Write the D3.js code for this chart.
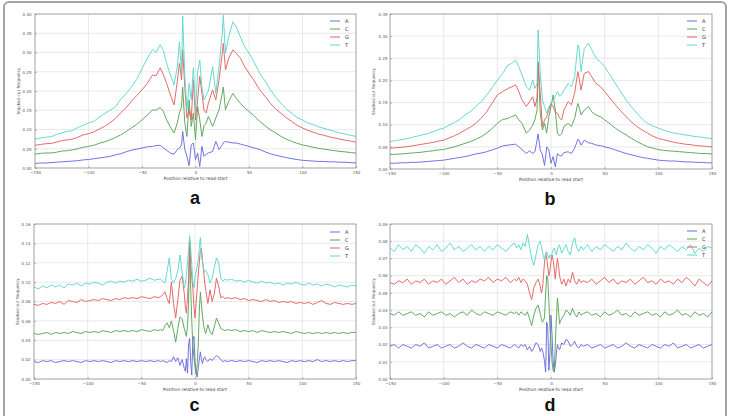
<!DOCTYPE html>
<html>
<head>
<meta charset="utf-8">
<script src="https://cdn.jsdelivr.net/npm/d3@7"></script>
<style>
  body { margin: 0; background: #fff; }
  svg { display: block; }
  .tick text { font-family: "DejaVu Sans", sans-serif; font-size: 4px; fill: #555; }
</style>
</head>
<body>
<div id="chart"></div>
<script>
/* global d3 */

// positions (bp relative to read start) used for panels a and b
const positionsAB = [-150, -145, -140, -135, -130, -125, -120, -115, -110, -105, -100, -95, -90, -85, -80, -75, -70, -65, -60, -55,
  -50, -45, -40, -37, -33, -30, -27, -23, -20, -17, -15, -13, -12, -10, -8, -6, -4, -2, 0, 2,
  4, 6, 8, 10, 12, 16, 19, 22, 25, 26, 28, 31, 35, 38, 42, 46,
  50, 55, 60, 65, 70, 75, 80, 85, 90, 95, 100, 105, 110, 115, 120, 125, 130, 135, 140, 145, 150]

// stacked cut frequency, panel a
const aA = [0.012, 0.013, 0.013, 0.014, 0.015, 0.016, 0.017, 0.018, 0.019, 0.021, 0.022, 0.024, 0.026, 0.028, 0.030, 0.034, 0.037, 0.042, 0.046, 0.049,
  0.052, 0.055, 0.056, 0.058, 0.059, 0.052, 0.046, 0.038, 0.036, 0.048, 0.052, 0.060, 0.095, 0.048, 0.030, 0.006, 0.060, 0.065, 0.022, 0.039,
  0.004, 0.056, 0.030, 0.036, 0.039, 0.043, 0.069, 0.048, 0.060, 0.066, 0.069, 0.067, 0.065, 0.065, 0.062, 0.059,
  0.056, 0.052, 0.048, 0.042, 0.037, 0.033, 0.030, 0.027, 0.024, 0.022, 0.020, 0.019, 0.018, 0.017, 0.017, 0.016, 0.016, 0.015, 0.015, 0.014, 0.013]
const aC = [0.036, 0.038, 0.039, 0.039, 0.041, 0.044, 0.045, 0.047, 0.050, 0.054, 0.056, 0.059, 0.064, 0.068, 0.073, 0.079, 0.086, 0.094, 0.104, 0.113,
  0.125, 0.138, 0.151, 0.150, 0.157, 0.147, 0.125, 0.104, 0.091, 0.117, 0.143, 0.160, 0.210, 0.117, 0.082, 0.177, 0.108, 0.143, 0.073, 0.160,
  0.125, 0.082, 0.110, 0.117, 0.134, 0.108, 0.130, 0.151, 0.194, 0.210, 0.151, 0.173, 0.194, 0.181, 0.168, 0.156,
  0.147, 0.135, 0.121, 0.110, 0.099, 0.091, 0.082, 0.075, 0.069, 0.064, 0.060, 0.057, 0.054, 0.051, 0.049, 0.047, 0.045, 0.043, 0.042, 0.040, 0.039]
const aG = [0.059, 0.061, 0.063, 0.064, 0.067, 0.071, 0.073, 0.075, 0.080, 0.086, 0.089, 0.094, 0.101, 0.108, 0.117, 0.128, 0.143, 0.156, 0.173, 0.188,
  0.203, 0.220, 0.242, 0.239, 0.260, 0.242, 0.220, 0.186, 0.164, 0.225, 0.272, 0.229, 0.307, 0.210, 0.130, 0.150, 0.125, 0.229, 0.125, 0.177,
  0.238, 0.194, 0.150, 0.143, 0.168, 0.203, 0.177, 0.229, 0.298, 0.324, 0.255, 0.285, 0.307, 0.298, 0.285, 0.263,
  0.246, 0.226, 0.203, 0.186, 0.168, 0.153, 0.142, 0.130, 0.121, 0.111, 0.104, 0.098, 0.093, 0.088, 0.085, 0.081, 0.078, 0.075, 0.072, 0.070, 0.067]
const aT = [0.075, 0.078, 0.080, 0.081, 0.087, 0.091, 0.095, 0.097, 0.105, 0.111, 0.117, 0.121, 0.132, 0.141, 0.150, 0.158, 0.178, 0.193, 0.210, 0.230,
  0.258, 0.285, 0.308, 0.300, 0.320, 0.305, 0.272, 0.238, 0.216, 0.263, 0.328, 0.246, 0.395, 0.238, 0.150, 0.220, 0.177, 0.260, 0.150, 0.250,
  0.280, 0.210, 0.177, 0.190, 0.200, 0.263, 0.194, 0.263, 0.350, 0.397, 0.298, 0.340, 0.380, 0.367, 0.340, 0.315,
  0.298, 0.274, 0.246, 0.226, 0.203, 0.184, 0.168, 0.153, 0.142, 0.131, 0.125, 0.117, 0.113, 0.107, 0.103, 0.099, 0.095, 0.091, 0.088, 0.085, 0.082]

// stacked cut frequency, panel b
const bA = [0.013, 0.013, 0.014, 0.014, 0.015, 0.015, 0.016, 0.017, 0.018, 0.019, 0.020, 0.022, 0.024, 0.026, 0.028, 0.031, 0.034, 0.036, 0.039, 0.043,
  0.047, 0.052, 0.054, 0.055, 0.056, 0.050, 0.044, 0.035, 0.041, 0.035, 0.039, 0.065, 0.079, 0.043, 0.032, 0.008, 0.050, 0.043, 0.013, 0.028,
  0.005, 0.035, 0.030, 0.030, 0.037, 0.039, 0.035, 0.047, 0.067, 0.065, 0.054, 0.065, 0.059, 0.058, 0.054, 0.053,
  0.050, 0.047, 0.043, 0.039, 0.035, 0.032, 0.029, 0.026, 0.024, 0.022, 0.020, 0.019, 0.018, 0.018, 0.017, 0.016, 0.016, 0.015, 0.015, 0.014, 0.014]
const bC = [0.033, 0.033, 0.034, 0.035, 0.036, 0.037, 0.038, 0.040, 0.041, 0.043, 0.044, 0.047, 0.050, 0.054, 0.058, 0.062, 0.067, 0.073, 0.081, 0.091,
  0.103, 0.112, 0.114, 0.118, 0.122, 0.111, 0.103, 0.081, 0.088, 0.099, 0.111, 0.133, 0.239, 0.126, 0.088, 0.103, 0.081, 0.118, 0.141, 0.167,
  0.133, 0.081, 0.075, 0.080, 0.096, 0.103, 0.096, 0.114, 0.148, 0.141, 0.122, 0.133, 0.141, 0.129, 0.122, 0.118,
  0.111, 0.102, 0.092, 0.084, 0.077, 0.069, 0.062, 0.056, 0.050, 0.047, 0.044, 0.042, 0.041, 0.040, 0.039, 0.038, 0.037, 0.036, 0.035, 0.035, 0.034]
const bG = [0.047, 0.048, 0.049, 0.050, 0.052, 0.054, 0.056, 0.058, 0.060, 0.063, 0.065, 0.070, 0.075, 0.081, 0.088, 0.095, 0.103, 0.115, 0.129, 0.148,
  0.167, 0.175, 0.182, 0.185, 0.190, 0.175, 0.156, 0.141, 0.152, 0.163, 0.141, 0.160, 0.242, 0.171, 0.096, 0.111, 0.118, 0.133, 0.148, 0.141,
  0.129, 0.126, 0.115, 0.111, 0.133, 0.152, 0.145, 0.171, 0.220, 0.208, 0.178, 0.216, 0.220, 0.208, 0.193, 0.186,
  0.175, 0.160, 0.145, 0.131, 0.118, 0.106, 0.096, 0.088, 0.081, 0.074, 0.069, 0.066, 0.063, 0.060, 0.058, 0.056, 0.055, 0.053, 0.052, 0.051, 0.050]
const bT = [0.062, 0.064, 0.066, 0.068, 0.071, 0.074, 0.077, 0.080, 0.084, 0.089, 0.092, 0.099, 0.105, 0.112, 0.122, 0.130, 0.141, 0.152, 0.167, 0.183,
  0.201, 0.216, 0.235, 0.238, 0.246, 0.231, 0.212, 0.186, 0.178, 0.201, 0.182, 0.193, 0.314, 0.216, 0.156, 0.141, 0.126, 0.141, 0.148, 0.156,
  0.163, 0.175, 0.165, 0.168, 0.178, 0.193, 0.186, 0.208, 0.280, 0.276, 0.220, 0.272, 0.284, 0.269, 0.250, 0.242,
  0.231, 0.212, 0.193, 0.174, 0.156, 0.140, 0.126, 0.113, 0.103, 0.097, 0.092, 0.088, 0.084, 0.081, 0.079, 0.077, 0.075, 0.073, 0.072, 0.070, 0.069]

// positions used for panels c and d
const positionsCD = [-150, -146, -142, -138, -134, -130, -126, -122, -118, -114, -110, -106, -102, -98, -94, -90, -86, -82, -78, -74,
  -70, -66, -62, -58, -54, -50, -46, -42, -38, -34,
  -32, -30, -28, -26, -24, -22, -20, -18, -16, -14, -12, -10,
  -9, -8, -7, -6, -5, -4, -3, -2, -1, 0, 1, 2, 3, 4, 5, 6, 7, 8, 9,
  10, 12, 14, 16, 18, 20, 22, 24, 26, 28, 30,
  34, 38, 42, 46, 50, 54, 58, 62, 66, 70, 74, 78, 82, 86, 90, 94, 98, 102, 106, 110,
  114, 118, 122, 126, 130, 134, 138, 142, 146, 150]

// stacked cut frequency, panel c
const cA = [0.018, 0.017, 0.019, 0.018, 0.019, 0.017, 0.018, 0.019, 0.018, 0.019, 0.018, 0.017, 0.019, 0.018, 0.019, 0.018, 0.019, 0.018, 0.017, 0.019,
  0.018, 0.019, 0.018, 0.019, 0.018, 0.019, 0.018, 0.019, 0.018, 0.019,
  0.018, 0.019, 0.018, 0.017, 0.019, 0.018, 0.023, 0.018, 0.022, 0.014, 0.020, 0.011,
  0.008, 0.021, 0.006, 0.035, 0.042, 0.018, 0.004, 0.040, 0.044, 0.018, 0.006, 0.002, 0.011, 0.020, 0.028, 0.020, 0.016, 0.021, 0.023,
  0.020, 0.018, 0.021, 0.019, 0.022, 0.024, 0.023, 0.020, 0.018, 0.019, 0.018,
  0.019, 0.018, 0.019, 0.018, 0.019, 0.018, 0.017, 0.019, 0.018, 0.019, 0.018, 0.019, 0.018, 0.017, 0.019, 0.018, 0.019, 0.018, 0.019, 0.018,
  0.020, 0.018, 0.019, 0.018, 0.019, 0.018, 0.019, 0.018, 0.019, 0.019]
const cC = [0.047, 0.046, 0.047, 0.048, 0.046, 0.048, 0.047, 0.048, 0.047, 0.049, 0.048, 0.047, 0.049, 0.048, 0.049, 0.048, 0.050, 0.049, 0.048, 0.050,
  0.049, 0.050, 0.049, 0.050, 0.049, 0.051, 0.050, 0.049, 0.051, 0.050,
  0.051, 0.050, 0.055, 0.058, 0.053, 0.060, 0.050, 0.038, 0.052, 0.064, 0.062, 0.052,
  0.048, 0.044, 0.055, 0.077, 0.143, 0.094, 0.060, 0.035, 0.022, 0.013, 0.005, 0.015, 0.035, 0.070, 0.090, 0.077, 0.065, 0.056, 0.050,
  0.047, 0.056, 0.049, 0.046, 0.054, 0.063, 0.058, 0.052, 0.051, 0.050, 0.051,
  0.050, 0.051, 0.049, 0.050, 0.049, 0.050, 0.048, 0.050, 0.049, 0.048, 0.049, 0.048, 0.049, 0.048, 0.047, 0.049, 0.048, 0.047, 0.048, 0.047,
  0.048, 0.047, 0.048, 0.047, 0.048, 0.047, 0.048, 0.047, 0.048, 0.048]
const cG = [0.077, 0.076, 0.078, 0.077, 0.079, 0.078, 0.080, 0.077, 0.081, 0.080, 0.079, 0.082, 0.080, 0.081, 0.082, 0.081, 0.083, 0.082, 0.081, 0.083,
  0.082, 0.084, 0.083, 0.084, 0.083, 0.085, 0.084, 0.083, 0.085, 0.084,
  0.085, 0.087, 0.090, 0.083, 0.078, 0.100, 0.078, 0.063, 0.082, 0.102, 0.106, 0.088,
  0.074, 0.068, 0.085, 0.102, 0.142, 0.118, 0.105, 0.094, 0.075, 0.063, 0.078, 0.092, 0.108, 0.120, 0.133, 0.135, 0.122, 0.112, 0.100,
  0.092, 0.078, 0.092, 0.080, 0.088, 0.104, 0.096, 0.084, 0.085, 0.083, 0.084,
  0.083, 0.084, 0.082, 0.083, 0.081, 0.082, 0.081, 0.080, 0.082, 0.080, 0.081, 0.079, 0.080, 0.079, 0.080, 0.078, 0.079, 0.078, 0.079, 0.077,
  0.079, 0.081, 0.078, 0.077, 0.079, 0.078, 0.077, 0.078, 0.077, 0.078]
const cT = [0.095, 0.093, 0.096, 0.094, 0.097, 0.095, 0.097, 0.094, 0.098, 0.097, 0.099, 0.096, 0.099, 0.098, 0.100, 0.099, 0.097, 0.100, 0.101, 0.099,
  0.101, 0.100, 0.102, 0.101, 0.103, 0.101, 0.102, 0.104, 0.102, 0.103,
  0.103, 0.101, 0.099, 0.111, 0.125, 0.103, 0.099, 0.104, 0.112, 0.128, 0.110, 0.094,
  0.098, 0.107, 0.120, 0.132, 0.148, 0.135, 0.118, 0.100, 0.094, 0.104, 0.111, 0.116, 0.123, 0.135, 0.146, 0.128, 0.121, 0.114, 0.111,
  0.112, 0.108, 0.099, 0.104, 0.115, 0.125, 0.120, 0.104, 0.101, 0.103, 0.102,
  0.103, 0.101, 0.102, 0.100, 0.102, 0.100, 0.099, 0.101, 0.099, 0.100, 0.098, 0.099, 0.097, 0.099, 0.098, 0.100, 0.098, 0.097, 0.099, 0.097,
  0.098, 0.096, 0.098, 0.097, 0.095, 0.097, 0.096, 0.095, 0.097, 0.096]

// stacked cut frequency, panel d
const dA = [0.019, 0.020, 0.018, 0.020, 0.019, 0.018, 0.020, 0.019, 0.021, 0.018, 0.019, 0.020, 0.018, 0.019, 0.020, 0.018, 0.019, 0.021, 0.019, 0.018,
  0.020, 0.019, 0.018, 0.020, 0.019, 0.018, 0.020, 0.019, 0.018, 0.020,
  0.019, 0.018, 0.020, 0.019, 0.020, 0.017, 0.019, 0.016, 0.018, 0.021, 0.020, 0.016,
  0.018, 0.017, 0.014, 0.010, 0.004, 0.033, 0.030, 0.005, 0.015, 0.037, 0.025, 0.010, 0.004, 0.008, 0.015, 0.020, 0.018, 0.017, 0.019,
  0.021, 0.020, 0.023, 0.022, 0.019, 0.020, 0.022, 0.019, 0.018, 0.020, 0.019,
  0.020, 0.018, 0.019, 0.020, 0.018, 0.019, 0.020, 0.018, 0.019, 0.021, 0.019, 0.018, 0.020, 0.019, 0.018, 0.020, 0.019, 0.018, 0.020, 0.019,
  0.021, 0.018, 0.019, 0.020, 0.018, 0.019, 0.020, 0.018, 0.019, 0.020]
const dC = [0.038, 0.037, 0.039, 0.037, 0.038, 0.039, 0.037, 0.038, 0.036, 0.039, 0.037, 0.038, 0.039, 0.037, 0.038, 0.036, 0.038, 0.039, 0.037, 0.040,
  0.038, 0.037, 0.039, 0.038, 0.037, 0.039, 0.038, 0.037, 0.039, 0.038,
  0.039, 0.037, 0.039, 0.038, 0.037, 0.039, 0.035, 0.031, 0.037, 0.041, 0.043, 0.038,
  0.035, 0.033, 0.034, 0.036, 0.050, 0.060, 0.058, 0.045, 0.030, 0.020, 0.010, 0.005, 0.004, 0.020, 0.035, 0.047, 0.040, 0.032, 0.034,
  0.035, 0.037, 0.040, 0.039, 0.037, 0.041, 0.038, 0.036, 0.039, 0.037, 0.038,
  0.039, 0.037, 0.038, 0.036, 0.039, 0.037, 0.038, 0.040, 0.037, 0.038, 0.036, 0.039, 0.037, 0.038, 0.039, 0.037, 0.038, 0.036, 0.039, 0.037,
  0.038, 0.040, 0.037, 0.038, 0.036, 0.039, 0.037, 0.038, 0.036, 0.039]
const dG = [0.056, 0.055, 0.057, 0.056, 0.058, 0.055, 0.057, 0.056, 0.058, 0.055, 0.057, 0.056, 0.058, 0.055, 0.057, 0.059, 0.056, 0.058, 0.055, 0.057,
  0.056, 0.058, 0.057, 0.059, 0.056, 0.058, 0.057, 0.059, 0.056, 0.058,
  0.057, 0.059, 0.056, 0.058, 0.057, 0.055, 0.050, 0.046, 0.053, 0.056, 0.058, 0.054,
  0.050, 0.052, 0.060, 0.068, 0.073, 0.070, 0.065, 0.060, 0.063, 0.068, 0.072, 0.069, 0.064, 0.058, 0.065, 0.070, 0.066, 0.060, 0.057,
  0.055, 0.058, 0.054, 0.058, 0.056, 0.062, 0.057, 0.055, 0.058, 0.056, 0.057,
  0.056, 0.058, 0.055, 0.057, 0.059, 0.056, 0.058, 0.055, 0.057, 0.056, 0.058, 0.055, 0.057, 0.059, 0.056, 0.057, 0.055, 0.058, 0.056, 0.057,
  0.055, 0.058, 0.056, 0.059, 0.057, 0.054, 0.058, 0.056, 0.054, 0.057]
const dT = [0.076, 0.074, 0.078, 0.075, 0.077, 0.074, 0.078, 0.076, 0.073, 0.077, 0.075, 0.078, 0.074, 0.076, 0.079, 0.075, 0.077, 0.074, 0.076, 0.078,
  0.075, 0.077, 0.074, 0.077, 0.075, 0.078, 0.076, 0.074, 0.077, 0.079,
  0.076, 0.078, 0.075, 0.079, 0.077, 0.084, 0.077, 0.070, 0.066, 0.072, 0.078, 0.080,
  0.077, 0.074, 0.071, 0.069, 0.072, 0.074, 0.072, 0.070, 0.072, 0.071, 0.073, 0.075, 0.076, 0.074, 0.072, 0.075, 0.077, 0.078, 0.075,
  0.073, 0.076, 0.078, 0.074, 0.072, 0.079, 0.082, 0.076, 0.074, 0.077, 0.075,
  0.078, 0.074, 0.077, 0.075, 0.078, 0.076, 0.074, 0.077, 0.075, 0.079, 0.076, 0.074, 0.077, 0.075, 0.078, 0.076, 0.073, 0.077, 0.075, 0.078,
  0.076, 0.074, 0.077, 0.075, 0.078, 0.073, 0.076, 0.074, 0.077, 0.076]

const bases = ['A', 'C', 'G', 'T']
const baseColors = ['#6a6ae2', '#5aa55a', '#e46262', '#5ed8cb']
const xTicks = [-150, -100, -50, 0, 50, 100, 150]
const yTicksA = [0, 0.05, 0.10, 0.15, 0.20, 0.25, 0.30, 0.35, 0.40]
const yTicksB = [0, 0.05, 0.10, 0.15, 0.20, 0.25, 0.30, 0.35]
const yTicksC = [0, 0.02, 0.04, 0.06, 0.08, 0.10, 0.12, 0.14, 0.16]
const yTicksD = [0, 0.01, 0.02, 0.03, 0.04, 0.05, 0.06, 0.07, 0.08, 0.09]

const svgWidth = 729
const svgHeight = 416

const svg = d3.select('#chart').append('svg')
  .attr('width', svgWidth)
  .attr('height', svgHeight)

svg.append('rect')
  .attr('width', svgWidth)
  .attr('height', svgHeight)
  .attr('fill', '#fff')

// outer figure frame (open at the bottom)
svg.append('rect')
  .attr('x', 4)
  .attr('y', 2)
  .attr('width', 722)
  .attr('height', 440)
  .attr('rx', 5)
  .attr('fill', 'none')
  .attr('stroke', '#a3a3a3')
  .attr('stroke-width', 2)

const panels = [
  { letter: 'a', left: 35, right: 356, top: 14, bottom: 168, ticks: yTicksA, pos: positionsAB, series: [aA, aC, aG, aT], pad: 3.5, legendX: 330, legendY: 21 },
  { letter: 'b', left: 390, right: 712, top: 14, bottom: 169, ticks: yTicksB, pos: positionsAB, series: [bA, bC, bG, bT], pad: 2.5, legendX: 687, legendY: 21 },
  { letter: 'c', left: 34, right: 356, top: 224, bottom: 379, ticks: yTicksC, pos: positionsCD, series: [cA, cC, cG, cT], pad: 3.5, legendX: 330, legendY: 232 },
  { letter: 'd', left: 390, right: 712, top: 224, bottom: 379, ticks: yTicksD, pos: positionsCD, series: [dA, dC, dG, dT], pad: 2.5, legendX: 687, legendY: 231 }
]

panels.forEach(function (p) {
  let xScale = d3.scaleLinear().domain([-150, 150]).range([p.left, p.right])
  let yScale = d3.scaleLinear().domain([0, p.ticks[p.ticks.length - 1]]).range([p.bottom, p.top])
  let width = p.right - p.left
  let height = p.bottom - p.top

  let g = svg.append('g').attr('class', 'panel_' + p.letter)

  // grid
  g.append('g')
    .selectAll('line')
    .data(xTicks.slice(1, -1))
    .join('line')
    .attr('x1', d => xScale(d)).attr('x2', d => xScale(d))
    .attr('y1', p.top).attr('y2', p.bottom)
    .attr('stroke', '#dcdcdc').attr('stroke-width', 0.6)
  g.append('g')
    .selectAll('line')
    .data(p.ticks.slice(1, -1))
    .join('line')
    .attr('x1', p.left).attr('x2', p.right)
    .attr('y1', d => yScale(d)).attr('y2', d => yScale(d))
    .attr('stroke', '#dcdcdc').attr('stroke-width', 0.6)

  // stacked lines, A drawn first, T on top
  let valueline = d3.line()
    .x((d, i) => xScale(p.pos[i]))
    .y(d => yScale(d))

  p.series.forEach(function (values, k) {
    g.append('path')
      .attr('d', valueline(values))
      .attr('fill', 'none')
      .attr('stroke', baseColors[k])
      .attr('stroke-width', 0.95)
      .attr('stroke-linejoin', 'round')
  })

  // axes box
  g.append('rect')
    .attr('x', p.left).attr('y', p.top)
    .attr('width', width).attr('height', height)
    .attr('fill', 'none')
    .attr('stroke', '#8a8a8a')
    .attr('stroke-width', 0.8)

  let xAxis = d3.axisBottom(xScale)
    .tickValues(xTicks)
    .tickSize(-2)
    .tickPadding(3)
    .tickFormat(d3.format('d'))
  let yAxis = d3.axisLeft(yScale)
    .tickValues(p.ticks)
    .tickSize(-2)
    .tickPadding(p.pad)
    .tickFormat(d3.format('.2f'))

  g.append('g') // Add the X Axis
    .attr('transform', 'translate(0,' + p.bottom + ')')
    .call(xAxis)
    .call(s => s.select('.domain').remove())
    .call(s => s.selectAll('.tick line').attr('stroke', '#8a8a8a').attr('stroke-width', 0.6))

  g.append('g') // Add the Y Axis
    .attr('transform', 'translate(' + p.left + ',0)')
    .call(yAxis)
    .call(s => s.select('.domain').remove())
    .call(s => s.selectAll('.tick line').attr('stroke', '#8a8a8a').attr('stroke-width', 0.6))

  // axis titles
  g.append('text')
    .attr('x', (p.left + p.right) / 2)
    .attr('y', p.bottom + 12)
    .attr('text-anchor', 'middle')
    .style('font-family', '"DejaVu Sans", sans-serif')
    .style('font-size', '4.4px')
    .attr('fill', '#444')
    .text('Position relative to read start')

  g.append('text')
    .attr('transform', 'translate(' + (p.left - 16) + ',' + (p.top + p.bottom) / 2 + ') rotate(-90)')
    .attr('text-anchor', 'middle')
    .attr('dy', '0.35em')
    .style('font-family', '"DejaVu Sans", sans-serif')
    .style('font-size', '4.2px')
    .attr('fill', '#444')
    .text('Stacked cut frequency')

  // legend
  let legend = g.append('g')
    .attr('transform', 'translate(' + p.legendX + ',' + p.legendY + ')')
  bases.forEach(function (b, k) {
    legend.append('line')
      .attr('x1', 0).attr('x2', 10)
      .attr('y1', k * 8).attr('y2', k * 8)
      .attr('stroke', baseColors[k])
      .attr('stroke-width', 1)
    legend.append('text')
      .attr('x', 15)
      .attr('y', k * 8)
      .attr('dy', '0.35em')
      .style('font-family', '"DejaVu Sans", sans-serif')
      .style('font-size', '5px')
      .attr('fill', '#333')
      .text(b)
  })

  // panel letter
  svg.append('text')
    .attr('x', (p.left + p.right) / 2 + (p.letter === 'a' || p.letter === 'c' ? -0.5 : -1))
    .attr('y', p.letter === 'a' || p.letter === 'b' ? p.bottom + 36 : 411)
    .attr('text-anchor', 'middle')
    .style('font-family', '"Liberation Sans", Arial, sans-serif')
    .style('font-weight', 'bold')
    .style('font-size', '18px')
    .attr('fill', '#111')
    .text(p.letter)
})
</script>
</body>
</html>
